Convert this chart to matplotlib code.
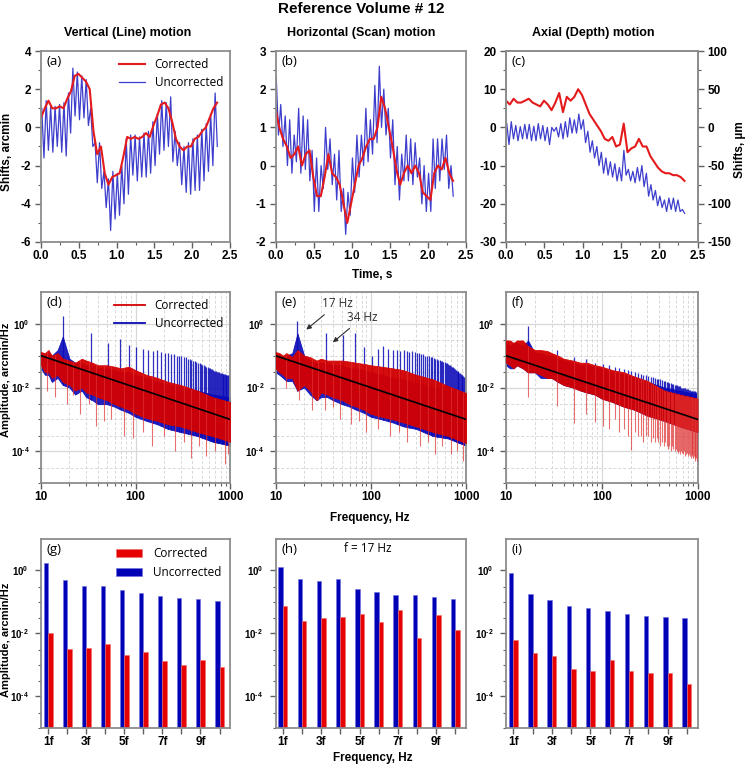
import numpy as np
import matplotlib
matplotlib.use('Agg')
import matplotlib.pyplot as plt
from matplotlib.ticker import MultipleLocator, FixedLocator, FixedFormatter, NullFormatter

plt.rcParams['font.family'] = ['Liberation Sans', 'DejaVu Sans']
plt.rcParams['font.weight'] = 'bold'
plt.rcParams['axes.unicode_minus'] = False
plt.rcParams['mathtext.fontset'] = 'custom'
plt.rcParams['mathtext.rm'] = 'Liberation Sans:bold'
plt.rcParams['mathtext.bf'] = 'Liberation Sans:bold'

RED = '#e41a1c'
BLUE = '#1c1cc4'
RED_DARK = '#d40000'
BLUE_DARK = '#0a0ab8'
GRAY = '#8c8c8c'

# ---------------- time traces ----------------
# corrected traces, evenly spread over 0 .. 2.33 s
a_red = [0.5, 1.0, 1.4, 1.0, 1.0, 1.1, 1.0, 1.5, 1.9, 2.7, 2.8, 2.6, 2.4, 2.0, -0.2, -1.4,
         -1.0, -2.4, -3.0, -2.6, -2.5, -2.4, -1.5, -0.5, -0.6, -0.5, -0.6, -0.5, -0.3, -0.5,
         0.1, 0.6, 1.2, 1.3, 1.0, 0.3, -0.6, -1.0, -1.2, -1.0, -1.0, -0.6, -0.5, -0.2, 0.0,
         0.5, 1.0, 1.3]
b_red = [1.5, 1.0, 0.7, 0.5, 0.2, 0.3, 0.5, 0.0, 0.3, 0.4, -0.3, -0.8, -0.8, -0.3, 0.3, -0.2,
         -0.3, -0.5, -1.0, -1.5, -1.0, -0.5, 0.0, 0.2, 0.5, 0.7, 0.7, 1.0, 1.8, 1.5, 1.0, 0.5,
         -0.1, -0.5, -0.2, 0.0, -0.2, 0.0, -0.2, -0.7, -0.8, -0.9, -0.2, 0.0, -0.1, 0.2, -0.2,
         -0.4]
c_red = [7, 6, 7.5, 6.5, 6.5, 7, 7.5, 6.5, 6, 5.5, 7, 6, 4.5, 6.5, 9, 4, 8, 7, 8, 10,
         8.5, 6, 3.5, 2, 0.5, -1, -3, -3.5, -2.5, -5, -4.5, 1, -6.5, -5.5, -5, -3, -5, -5,
         -7.5, -9, -10.5, -11.5, -12, -12, -12.5, -12.5, -13, -14]

# uncorrected traces: one top and one bottom value per 17 Hz cycle (40 cycles)
a_blue_top = [1.0, 1.4, 1.1, 1.1, 1.2, 1.3, 1.8, 3.1, 2.9, 2.7, 2.5, 1.0, -0.8, -0.8, -2.3,
              -2.7, -2.3, -2.4, -2.0, -0.6, -0.4, -0.4, -0.5, -0.3, -0.2, 0.3, 0.7, 1.4, 1.3,
              1.6, -0.2, -0.8, -1.0, -0.8, -0.6, -0.4, -0.1, 0.2, 0.7, 1.8]
a_blue_dip = [-1.6, -1.2, -1.3, -1.0, -1.3, -1.5, -0.3, 0.6, 0.4, 0.5, 0.1, -1.0, -2.9, -3.2,
              -4.2, -5.4, -4.8, -4.6, -4.0, -3.5, -2.5, -2.8, -2.6, -2.6, -2.4, -2.0, -1.4,
              -1.2, -1.0, -1.8, -2.0, -3.0, -3.4, -3.5, -3.3, -3.3, -2.8, -2.3, -2.0, -1.0]
b_blue_top = [2.3, 1.6, 1.3, 1.2, 0.8, 1.5, 1.3, 1.2, 0.4, 0.2, 0.0, 1.0, 0.7, 0.3, 0.4, -0.6,
              -0.7, 0.2, 0.8, 0.8, 1.5, 1.2, 2.1, 2.6, 2.0, 1.5, 1.2, 0.5, 0.3, 0.8, 0.7, 0.6,
              0.2, 0.0, -0.2, 0.7, 0.7, 0.7, 0.8, 0.0]
b_blue_dip = [0.8, 0.5, 0.0, -0.2, 0.1, -0.2, -0.1, -0.4, -1.2, -1.2, -0.6, -0.1, -0.5, -0.9,
              -1.2, -1.8, -1.3, -0.7, -0.3, 0.0, 0.1, 0.3, 0.6, 1.0, 0.8, 0.2, -0.5, -0.9, -0.4,
              -0.4, -0.5, -0.3, -1.0, -1.2, -1.2, -0.6, -0.4, -0.1, -0.6, -0.8]
c_blue_top = [1.0, 1.5, 0.5, 0.2, 0.8, 0.8, 0.3, 1.0, 0.5, 0.0, 0.0, 0.0, 1.0, 1.5, 2.5, 2.0,
              3.5, 2.0, -1.0, -3.5, -5.0, -6.5, -8.0, -9.0, -9.5, -10.5, -6.0, -11.0, -11.5,
              -10.5, -10.0, -12.0, -15.0, -16.5, -18.0, -19.0, -18.5, -18.5, -19.0, -21.5]
c_blue_dip = [-4.5, -3.0, -3.5, -3.0, -3.0, -3.5, -3.5, -3.0, -3.5, -4.5, -1.0, -2.5, -3.0,
              -2.5, -1.5, -1.5, -0.5, -4.0, -6.5, -8.0, -10.0, -12.0, -12.5, -13.0, -14.0,
              -14.0, -12.5, -14.0, -14.5, -14.0, -15.5, -18.0, -19.0, -20.5, -21.0, -22.0,
              -21.5, -22.0, -22.0, -22.5]

# ---------------- spectra (arcmin/Hz) ----------------
freq_env = [10, 11, 12, 13, 15, 17, 20, 23, 27, 30, 35, 40, 50, 60, 70, 85, 100, 130, 170,
            220, 300, 450, 650, 1000]
d_red_hi = [0.13, 0.12, 0.15, 0.1, 0.12, 0.08, 0.07, 0.06, 0.08, 0.07, 0.06, 0.05, 0.05, 0.045,
            0.04, 0.045, 0.035, 0.025, 0.02, 0.015, 0.012, 0.008, 0.005, 0.0035]
d_red_lo = [0.05, 0.03, 0.03, 0.02, 0.025, 0.015, 0.012, 0.008, 0.01, 0.007, 0.006, 0.005,
            0.004, 0.003, 0.0025, 0.002, 0.0015, 0.0011, 0.0009, 0.0007, 0.0006, 0.0004,
            0.0003, 0.0002]
d_blue_hi = [0.1, 0.1, 0.12, 0.1, 0.15, 0.4, 0.08, 0.06, 0.06, 0.05, 0.05, 0.04, 0.04, 0.035,
             0.03, 0.03, 0.025, 0.02, 0.015, 0.012, 0.01, 0.008, 0.006, 0.005]
d_blue_lo = [0.04, 0.025, 0.025, 0.015, 0.02, 0.012, 0.01, 0.006, 0.008, 0.005, 0.004, 0.003,
             0.003, 0.0025, 0.002, 0.0016, 0.0012, 0.0009, 0.0007, 0.0005, 0.0004, 0.0003,
             0.0002, 0.00015]
e_red_hi = [0.13, 0.12, 0.1, 0.12, 0.09, 0.15, 0.1, 0.09, 0.07, 0.08, 0.07, 0.07, 0.07, 0.065,
            0.06, 0.055, 0.05, 0.045, 0.04, 0.035, 0.025, 0.018, 0.011, 0.0067]
e_red_lo = [0.04, 0.03, 0.025, 0.02, 0.02, 0.008, 0.012, 0.008, 0.004, 0.007, 0.006, 0.005,
            0.004, 0.003, 0.0025, 0.002, 0.0015, 0.0012, 0.001, 0.0008, 0.0006, 0.0004,
            0.0003, 0.00018]
e_blue_hi = [0.1, 0.08, 0.08, 0.1, 0.12, 0.5, 0.1, 0.07, 0.06, 0.06, 0.06, 0.05, 0.05, 0.04,
             0.04, 0.035, 0.03, 0.025, 0.02, 0.018, 0.014, 0.01, 0.008, 0.006]
e_blue_lo = [0.03, 0.025, 0.02, 0.016, 0.016, 0.008, 0.01, 0.006, 0.004, 0.005, 0.005, 0.004,
             0.003, 0.0025, 0.002, 0.0016, 0.0012, 0.001, 0.0008, 0.0006, 0.0005, 0.0003,
             0.00025, 0.00015]
f_red_hi = [0.3, 0.3, 0.25, 0.3, 0.3, 0.2, 0.15, 0.15, 0.14, 0.12, 0.1, 0.08, 0.07, 0.06, 0.06,
            0.05, 0.045, 0.035, 0.03, 0.022, 0.016, 0.008, 0.006, 0.0045]
f_red_lo = [0.06, 0.05, 0.04, 0.05, 0.04, 0.03, 0.03, 0.025, 0.02, 0.02, 0.015, 0.012, 0.01,
            0.008, 0.007, 0.006, 0.0045, 0.0035, 0.0025, 0.002, 0.0013, 0.0009, 0.0006, 0.0004]
f_blue_hi = [0.25, 0.2, 0.25, 0.25, 0.2, 0.3, 0.12, 0.12, 0.1, 0.1, 0.08, 0.07, 0.06, 0.05,
             0.05, 0.045, 0.04, 0.03, 0.026, 0.02, 0.015, 0.01, 0.008, 0.006]
f_blue_lo = [0.05, 0.04, 0.04, 0.05, 0.04, 0.03, 0.03, 0.02, 0.02, 0.02, 0.015, 0.012, 0.01,
             0.008, 0.007, 0.006, 0.0045, 0.0035, 0.0025, 0.002, 0.0013, 0.0009, 0.0006, 0.0004]

# uncorrected peaks at the 17 Hz harmonics (17, 34, ... 986 Hz)
d_harm = [1.7, 0.5, 0.25, 0.34, 0.22, 0.19, 0.16, 0.15, 0.14, 0.15, 0.13, 0.12, 0.12, 0.11,
          0.11, 0.1, 0.1, 0.1, 0.09, 0.09, 0.08, 0.08, 0.075, 0.07, 0.07, 0.065, 0.06, 0.06,
          0.055, 0.05, 0.05, 0.048, 0.045, 0.044, 0.042, 0.04, 0.038, 0.037, 0.035, 0.034,
          0.033, 0.032, 0.031, 0.03, 0.03, 0.029, 0.028, 0.028, 0.027, 0.027, 0.026, 0.026,
          0.025, 0.025, 0.025, 0.024, 0.024, 0.024]
e_harm = [1.27, 0.5, 0.45, 0.5, 0.19, 0.1, 0.16, 0.2, 0.16, 0.15, 0.15, 0.14, 0.15, 0.14, 0.13,
          0.14, 0.13, 0.12, 0.12, 0.11, 0.11, 0.1, 0.1, 0.095, 0.09, 0.09, 0.085, 0.08, 0.08,
          0.075, 0.075, 0.07, 0.07, 0.065, 0.065, 0.06, 0.058, 0.055, 0.052, 0.05, 0.048,
          0.045, 0.043, 0.04, 0.038, 0.036, 0.034, 0.032, 0.03, 0.029, 0.028, 0.026, 0.025,
          0.024, 0.023, 0.022, 0.021, 0.02]
f_harm = [0.85, 0.15, 0.09, 0.08, 0.06, 0.055, 0.05, 0.045, 0.04, 0.038, 0.035, 0.033, 0.03,
          0.028, 0.026, 0.025, 0.024, 0.023, 0.022, 0.021, 0.02, 0.019, 0.018, 0.018, 0.017,
          0.016, 0.016, 0.015, 0.015, 0.014, 0.014, 0.013, 0.013, 0.012, 0.012, 0.012, 0.011,
          0.011, 0.011, 0.01, 0.01, 0.01, 0.0095, 0.0095, 0.009, 0.009, 0.009, 0.0085, 0.0085,
          0.008, 0.008, 0.008, 0.0075, 0.0075, 0.0075, 0.007, 0.007, 0.007]
# corrected: deep dips
f_dips = [0.005, 0.0027, 0.00075, 0.0015, 0.0008, 0.0006, 0.0005, 0.001, 0.0004, 0.0005,
          0.0003, 0.00011, 0.0004, 0.0003, 0.0003, 0.0002, 0.0003, 0.0003, 0.0002, 0.00025,
          0.0002, 0.00025, 0.0002, 0.00015, 0.0002, 0.00015, 0.0002, 0.00015, 0.00012,
          0.00015, 0.0001, 0.00015, 0.00012, 0.0001, 0.00012, 0.0001, 0.00009, 0.0001,
          0.00008, 0.0001, 0.00009, 0.00008, 0.0001, 0.00007, 0.00008, 0.00009, 0.00007,
          0.00008, 0.00007, 0.00006, 0.00008, 0.00007, 0.00006, 0.00007, 0.00006, 0.00005,
          0.00006, 0.00005]
d_dip_f = [11.5, 14, 19, 22, 26, 32, 38, 46, 55, 75, 95, 120, 150, 200, 260, 330, 390, 470,
           560, 700, 880, 950]
d_dip_v = [0.008, 0.005, 0.003, 0.006, 0.0015, 0.003, 0.0006, 0.0009, 0.001, 0.0003, 0.00025,
           0.0004, 0.00015, 0.0003, 0.0001, 0.0002, 0.00006, 0.00015, 0.00007, 0.0001,
           0.00004, 0.00008]
e_dip_f = [13, 17.5, 24, 28, 33, 40, 48, 62, 75, 90, 120, 160, 200, 240, 330, 400, 470, 560,
           700, 800, 920]
e_dip_v = [0.01, 0.004, 0.002, 0.004, 0.002, 0.0025, 0.001, 0.0007, 0.0009, 0.0004, 0.0005,
           0.0003, 0.0004, 0.0002, 0.00015, 0.0002, 0.00008, 0.00015, 0.00008, 0.0001, 0.00005]
fit_f = [10, 1000]
fit_amp = [0.1, 0.001]

# ---------------- harmonic amplitudes (bars) ----------------
harm_labels = ['1f', '', '3f', '', '5f', '', '7f', '', '9f', '']
g_blue = [1.7, 0.5, 0.33, 0.32, 0.24, 0.19, 0.155, 0.137, 0.12, 0.11]
g_red = [0.0103, 0.0031, 0.0035, 0.0046, 0.0021, 0.0025, 0.00135, 0.001, 0.0014, 0.00087]
h_blue = [1.3, 0.52, 0.47, 0.52, 0.25, 0.2, 0.165, 0.16, 0.14, 0.12]
h_red = [0.074, 0.024, 0.031, 0.033, 0.041, 0.023, 0.055, 0.0069, 0.039, 0.0126]
i_blue = [0.82, 0.18, 0.114, 0.072, 0.063, 0.051, 0.041, 0.035, 0.032, 0.030]
i_red = [0.0063, 0.0024, 0.0019, 0.00072, 0.00062, 0.0014, 0.00062, 0.00054, 0.00055, 0.00025]

W, H = 747, 767
fig = plt.figure(figsize=(W / 100, H / 100), dpi=100)


def box(l, t, r, b):
    return fig.add_axes([l / W, 1 - b / H, (r - l) / W, (b - t) / H])


def style(ax, ypad=2):
    for s in ax.spines.values():
        s.set_color(GRAY)
        s.set_linewidth(1.3)
    ax.tick_params(which='both', direction='out', color='#606060', labelsize=8.5, pad=2)
    ax.tick_params(axis='y', pad=ypad)
    ax.tick_params(which='major', length=4, width=1)
    ax.tick_params(which='minor', length=2.5, width=0.8)
    ax.tick_params(top=False, right=False, which='both')


def panel_label(ax, s, x=0.03, y=0.945):
    ax.text(x, y, s, transform=ax.transAxes, fontsize=9.5, family='Open Sans',
            weight='normal', ha='left', va='center')


def log_yaxis(ax, pad):
    ax.yaxis.set_major_locator(FixedLocator(ylog_major))
    ax.yaxis.set_major_formatter(FixedFormatter(ylog_labels))
    ax.yaxis.set_minor_locator(FixedLocator(ylog_minor))
    ax.yaxis.set_minor_formatter(NullFormatter())
    ax.tick_params(axis='y', labelsize=7, pad=pad)


cols = [(41, 230), (275.5, 466), (506, 697.5)]
row_tb = [(51, 242), (292, 483), (539, 727.5)]

# ---------- row 1: time traces ----------
t_cyc = 0.01 + 0.0588 * np.arange(len(a_blue_top))


def blue_trace(top, dip):
    tt = np.ravel(np.column_stack([t_cyc, t_cyc + 0.029]))
    vv = np.ravel(np.column_stack([top, dip]))
    return tt, vv


for k, (red, top, dip, lim, step, lab) in enumerate([
        (a_red, a_blue_top, a_blue_dip, (-6, 4), 2, '(a)'),
        (b_red, b_blue_top, b_blue_dip, (-2, 3), 1, '(b)'),
        (c_red, c_blue_top, c_blue_dip, (-30, 20), 10, '(c)')]):
    l, r = cols[k]
    t, b = row_tb[0]
    ax = box(l, t, r, b)
    tt, vv = blue_trace(top, dip)
    ax.plot(tt, vv, color=BLUE, lw=0.9, alpha=0.85, label='Uncorrected')
    ax.plot(np.linspace(0, 2.33, len(red)), red, color=RED, lw=1.5, label='Corrected')
    ax.set_xlim(0, 2.5)
    ax.set_ylim(*lim)
    ax.xaxis.set_major_locator(FixedLocator([0, 0.5, 1.0, 1.5, 2.0, 2.5]))
    ax.xaxis.set_major_formatter(FixedFormatter(['0.0', '0.5', '1.0', '1.5', '2.0', '2.5']))
    ax.xaxis.set_minor_locator(MultipleLocator(0.25))
    ax.yaxis.set_major_locator(MultipleLocator(step))
    ax.yaxis.set_minor_locator(MultipleLocator(step / 2))
    style(ax, ypad=3)
    panel_label(ax, lab)
    if k == 0:
        h, lb = ax.get_legend_handles_labels()
        ax.legend(h[::-1], lb[::-1], loc='upper right', frameon=False,
                  prop={'family': 'Open Sans', 'size': 8.5, 'weight': 'normal'},
                  handlelength=2.2, handletextpad=0.8, labelspacing=0.45,
                  borderaxespad=0.2)
    if k == 2:
        ax2 = ax.twinx()
        ax2.set_ylim(-150, 100)
        ax2.yaxis.set_major_locator(MultipleLocator(50))
        ax2.yaxis.set_minor_locator(MultipleLocator(25))
        style(ax2, ypad=3)
        ax2.tick_params(right=True, which='both')

# ---------- row 2: spectra ----------
harm_f = 17 * np.arange(1, len(d_harm) + 1)
lf_env = np.log10(freq_env)


def env_at(f, env):
    return 10 ** np.interp(np.log10(f), lf_env, np.log10(env))


spec = [
    (d_red_hi, d_red_lo, d_blue_hi, d_blue_lo, d_harm, d_dip_f, d_dip_v, '(d)'),
    (e_red_hi, e_red_lo, e_blue_hi, e_blue_lo, e_harm, e_dip_f, e_dip_v, '(e)'),
    (f_red_hi, f_red_lo, f_blue_hi, f_blue_lo, f_harm, list(harm_f), f_dips, '(f)'),
]
ylog_major = [1e-4, 1e-2, 1e0]
ylog_labels = [r'$\mathregular{10^{\text{-}4}}$', r'$\mathregular{10^{\text{-}2}}$',
               r'$\mathregular{10^{0}}$']
ylog_minor = [1e-5, 1e-3, 1e-1, 3e-5, 3e-3, 3e-1, 3e-4, 3e-2]

for k, (rh, rl, bh, bl, harm, dipf, dipv, lab) in enumerate(spec):
    l, r = cols[k]
    t, b = row_tb[1]
    ax = box(l, t, r, b)
    ax.set_xscale('log')
    ax.set_yscale('log')
    ax.fill_between(freq_env, bl, bh, color=BLUE_DARK, lw=0.6, alpha=0.9, zorder=2)
    ax.vlines(harm_f, env_at(harm_f, bl), harm, color=BLUE_DARK, lw=0.9, alpha=0.85, zorder=2)
    ax.fill_between(freq_env, rl, rh, color=RED_DARK, lw=0.6, alpha=0.95, zorder=3)
    ax.vlines(dipf, dipv, env_at(np.array(dipf), rh), color='#e03030', lw=0.8, alpha=0.7,
              zorder=3)
    ax.plot(fit_f, fit_amp, color='black', lw=1.2, zorder=4)
    ax.set_xlim(10, 1000)
    ax.set_ylim(1e-5, 10)
    ax.xaxis.set_major_locator(FixedLocator([10, 100, 1000]))
    ax.xaxis.set_major_formatter(FixedFormatter(['10', '100', '1000']))
    ax.xaxis.set_minor_formatter(NullFormatter())
    ax.grid(True, which='major', color='#d8d8d8', lw=0.9, zorder=0)
    ax.grid(True, which='minor', color='#d8d8d8', lw=0.7, ls=(0, (3, 2)), zorder=0)
    ax.set_axisbelow(True)
    style(ax)
    log_yaxis(ax, 4)
    panel_label(ax, lab)
    if k == 0:
        hr, = ax.plot([], [], color=RED_DARK, lw=1.3, label='Corrected')
        hb, = ax.plot([], [], color=BLUE_DARK, lw=1.3, label='Uncorrected')
        ax.legend(handles=[hr, hb], loc='upper right', frameon=False,
                  prop={'family': 'Open Sans', 'size': 8.5, 'weight': 'normal'},
                  handlelength=2.6, handletextpad=0.8, labelspacing=0.45,
                  borderaxespad=0.2)
    if k == 1:
        akw = dict(arrowstyle='-|>', color='#303030', lw=0.8, mutation_scale=7)
        ax.annotate('17 Hz', xy=(20, 0.58), xytext=(31, 4.3), fontsize=8.5,
                    family='Open Sans', weight='normal', color='#303030',
                    ha='left', va='center', arrowprops=akw)
        ax.annotate('34 Hz', xy=(38, 0.23), xytext=(57, 1.6), fontsize=8.5,
                    family='Open Sans', weight='normal', color='#303030',
                    ha='left', va='center', arrowprops=akw)

# ---------- row 3: harmonic bars ----------
hx = np.arange(1, 11)
bw = 0.23
bars = [(g_blue, g_red, '(g)'), (h_blue, h_red, '(h)'), (i_blue, i_red, '(i)')]
for k, (bv, rv, lab) in enumerate(bars):
    l, r = cols[k]
    t, b = row_tb[2]
    ax = box(l, t, r, b)
    ax.set_yscale('log')
    ax.bar(hx - bw / 2, bv, bw, bottom=1e-6, color='#0000b4', edgecolor='#6f6fe0', lw=0.4,
           label='Uncorrected')
    ax.bar(hx + bw / 2, rv, bw, bottom=1e-6, color='#e60000', edgecolor='#f07070', lw=0.4,
           label='Corrected')
    ax.set_xlim(0.62, 10.55)
    ax.set_ylim(1e-5, 10)
    ax.xaxis.set_major_locator(FixedLocator(hx))
    ax.xaxis.set_major_formatter(FixedFormatter(harm_labels))
    style(ax)
    log_yaxis(ax, 5)
    panel_label(ax, lab)
    if k == 0:
        h, lb = ax.get_legend_handles_labels()
        ax.legend(h[::-1], lb[::-1], loc='upper right', frameon=False,
                  prop={'family': 'Open Sans', 'size': 8.5, 'weight': 'normal'},
                  handlelength=2.2, handleheight=0.6, handletextpad=1.0,
                  labelspacing=0.5, borderaxespad=0.3)
    if k == 1:
        ax.text(0.483, 0.947, 'f = 17 Hz', transform=ax.transAxes, fontsize=8.5,
                family='Open Sans', weight='normal', ha='center', va='center')

# ---------- titles and axis labels ----------
fig.text(0.483, 0.988, 'Reference Volume # 12', ha='center', va='center', fontsize=11)
for x, s in [(0.171, 'Vertical (Line) motion'), (0.484, 'Horizontal (Scan) motion'),
             (0.794, 'Axial (Depth) motion')]:
    fig.text(x, 0.9566, s, ha='center', va='center', fontsize=9)
fig.text(0.0098, 0.802, 'Shifts, arcmin', rotation=90, ha='center', va='center', fontsize=8.5)
fig.text(0.9906, 0.8044, 'Shifts, \u00b5m', rotation=90, ha='center', va='center', fontsize=8.5)
fig.text(0.4976, 0.6415, 'Time, s', ha='center', va='center', fontsize=8.5)
fig.text(0.0078, 0.5046, 'Amplitude, arcmin/Hz', rotation=90, ha='center', va='center',
         fontsize=8)
fig.text(0.495, 0.3246, 'Frequency, Hz', ha='center', va='center', fontsize=8.5)
fig.text(0.0078, 0.1656, 'Amplitude, arcmin/Hz', rotation=90, ha='center', va='center',
         fontsize=8)
fig.text(0.4995, 0.0117, 'Frequency, Hz', ha='center', va='center', fontsize=8.5)

fig.savefig('out.png', dpi=100)
